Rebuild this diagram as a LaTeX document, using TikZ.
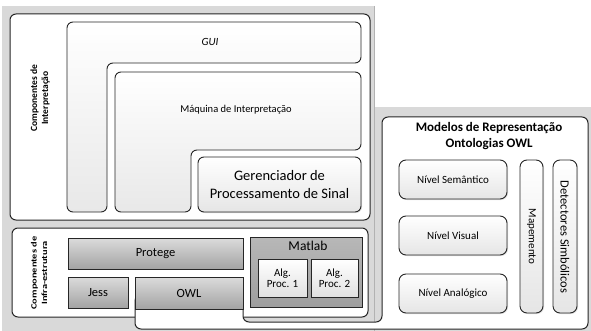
\documentclass[tikz,border=0pt]{standalone}
\usepackage{fontspec}
\setmainfont{Carlito}
\usetikzlibrary{shadows}
\definecolor{bg}{HTML}{D9D9D9}
\definecolor{edge}{HTML}{262626}
\begin{document}
\begin{tikzpicture}[x=1pt,y=-1pt,
  frame/.style={draw=edge, line width=1pt, fill=white, rounded corners=6pt},
  lshape/.style={draw=edge, line width=0.9pt, top color=white, bottom color=black!9, rounded corners=6pt},
  softbox/.style={draw=edge, line width=0.9pt, top color=white, bottom color=black!10, rounded corners=7pt,
     inner sep=0pt, outer sep=0pt, anchor=north west, align=center, font=\fontsize{11}{13}\selectfont,
     drop shadow={opacity=0.25, shadow xshift=1pt, shadow yshift=-1pt}},
  graybox/.style={draw=edge, line width=0.9pt, top color=black!14, bottom color=black!36,
     inner sep=0pt, outer sep=0pt, anchor=north west, font=\fontsize{12.5}{14}\selectfont,
     drop shadow={opacity=0.25, shadow xshift=1pt, shadow yshift=-1pt}},
  algbox/.style={draw=edge, line width=0.9pt, top color=white, bottom color=black!12,
     inner sep=0pt, outer sep=0pt, anchor=north west, align=center, font=\fontsize{11}{10.5}\selectfont},
  lbl/.style={font=\fontsize{11}{13}\selectfont, align=center},
  sidelbl/.style={font=\bfseries\fontsize{9.5}{11}\selectfont, align=center, rotate=90},
]
\useasboundingbox (0,0) rectangle (591,331);
% background panels
\fill[bg] (2,6) rectangle (374,331);
\fill[bg] (374,107) rectangle (591,331);
\draw[black!30, line width=0.5pt] (374,6) -- (374,331);

% interpretation frame
\draw[frame] (10,14) rectangle (370,220);
\node[sidelbl] (interplbl) at (40,98) {Componentes de\\Interpretação};
% GUI L-shape
\draw[lshape] (67,22) -- (361,22) -- (361,63) -- (107,63) -- (107,212) -- (67,212) -- cycle;
\node[lbl, font=\itshape\fontsize{11}{13}\selectfont] (gui) at (210,42) {GUI};
% Maquina L-shape
\draw[lshape] (115,72) -- (361,72) -- (361,150) -- (191,150) -- (191,212) -- (115,212) -- cycle;
\node[lbl, font=\fontsize{10.5}{13}\selectfont] (maq) at (236,110) {Máquina de Interpretação};
% Gerenciador
\node[softbox, rounded corners=6pt, minimum width=163pt, minimum height=55pt, drop shadow={opacity=0},
   font=\fontsize{14.5}{18}\selectfont] (ger) at (198,157) {Gerenciador de\\Processamento de Sinal};

% infrastructure frame
\draw[frame] (12,228) rectangle (368,317);
\node[sidelbl, font=\bfseries\fontsize{8}{10.5}\selectfont] (infralbl) at (39,273)
   {\scalebox{1.3}[1]{Componentes de}\\\scalebox{1.3}[1]{Infra-estrutura}};

% Modelos shape (with tongue under OWL)
\draw[frame] (243,295) -- (243,322) -- (382,322) -- (382,117) -- (588,117) -- (588,329) -- (135,329) -- (135,295) -- cycle;
\node[font=\bfseries\fontsize{13}{16.5}\selectfont, align=center] (modelos) at (489,136) {Modelos de Representação\\Ontologias OWL};

% infra boxes
\node[graybox, minimum width=175pt, minimum height=31pt] (protege) at (68,238) {Protege};
\node[graybox, minimum width=60pt, minimum height=31pt] (jess) at (68,277) {Jess};
\node[graybox, minimum width=108pt, minimum height=32pt] (owl) at (135,277) {OWL};
\node[graybox, top color=black!28, bottom color=black!38, minimum width=112pt, minimum height=70pt] (matlab) at (250,237) {};
\node[font=\fontsize{13.5}{15}\selectfont] (matlabt) at (308,246) {Matlab};
\node[algbox, minimum width=49pt, minimum height=38pt] (alg1) at (258,259) {Alg.\\Proc. 1};
\node[algbox, minimum width=47pt, minimum height=38pt] (alg2) at (311,259) {Alg.\\Proc. 2};

% Modelos contents
\node[softbox, minimum width=108pt, minimum height=39pt] (sem) at (399,160) {Nível Semântico};
\node[softbox, minimum width=108pt, minimum height=39pt] (vis) at (399,216) {Nível Visual};
\node[softbox, minimum width=108pt, minimum height=39pt] (ana) at (399,274) {Nível Analógico};
\node[softbox, minimum width=23pt, minimum height=153pt] (map) at (520,160) {};
\node[lbl, rotate=-90] (mapt) at (531.5,236.5) {Mapemento};
\node[softbox, minimum width=24pt, minimum height=153pt] (det) at (553,160) {};
\node[lbl, rotate=-90, font=\fontsize{12.5}{14}\selectfont] (dett) at (565,237) {Detectores Simbólicos};
\end{tikzpicture}
\end{document}
